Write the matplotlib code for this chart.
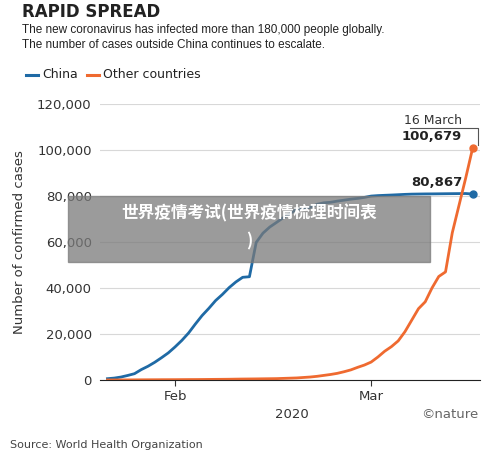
import matplotlib
matplotlib.use("Agg")
import matplotlib.pyplot as plt
import numpy as np

# days relative to 1 Feb 2020
days = list(range(-10, 45))  # Jan 22 .. Mar 16
china = [571,830,1287,1975,2744,4515,5974,7711,9692,11791,
         14380,17205,20438,24324,28018,31161,34546,37198,40171,42638,44653,44900,
         59804,63851,66492,68500,70548,72436,74185,74576,75077,76392,77042,77262,77780,78191,78630,78961,79394,
         79968,80174,80304,80422,80565,80710,80813,80859,80904,80924,80955,80992,81021,81048,81077,80867]
other = [10,20,30,40,60,80,100,110,130,140,
         150,170,190,200,220,250,280,300,330,380,420,450,
         480,520,560,600,700,800,900,1100,1300,1600,2000,2400,2900,3600,4400,5500,6500,
         7800,10000,12500,14500,17000,21000,26000,31000,34000,40000,45000,47000,64000,76000,88000,100679]
yticks = [0,20000,40000,60000,80000,100000,120000]

W,H = 500,459
fig = plt.figure(figsize=(W/100,H/100), dpi=100)
ax = fig.add_axes([100/W, 1-380/H, 380/W, (380-104)/H])
blue, orange = "#1f6aa5", "#ef6a30"
ax.plot(days, china, color=blue, lw=2)
ax.plot(days, other, color=orange, lw=2)
ax.plot(days[-1], china[-1], 'o', color=blue, ms=5)
ax.plot(days[-1], other[-1], 'o', color=orange, ms=5)
ax.set_xlim(-11.1, 45.1)
ax.set_ylim(0, 120000)
ax.set_yticks(yticks)
ax.set_yticklabels([f"{v:,}" for v in yticks], fontsize=9.5, color="#333")
ax.set_xticks([0, 29])
ax.set_xticklabels(["Feb", "Mar"], fontsize=9.5, color="#333")
ax.tick_params(axis='y', length=0, pad=6)
ax.tick_params(axis='x', length=4, color="#333")
ax.grid(axis='y', color="#d8d8d8", lw=0.8)
for s in ["top","right","left"]:
    ax.spines[s].set_visible(False)
ax.spines["bottom"].set_color("#222")
ax.set_axisbelow(True)
ax.set_ylabel("Number of confirmed cases", fontsize=9.5, color="#333", labelpad=8)

fig.text(22/W, 1-12/H, "RAPID SPREAD", fontsize=12, fontweight="bold", va="center", color="#222",
         family="Liberation Sans Narrow")
fig.text(22/W, 1-30/H, "The new coronavirus has infected more than 180,000 people globally.", fontsize=8.5, va="center", color="#222",
         family="Liberation Sans")
fig.text(22/W, 1-45/H, "The number of cases outside China continues to escalate.", fontsize=8.5, va="center", color="#222",
         family="Liberation Sans")
fig.lines.append(plt.Line2D([26/W,38/W],[1-75/H]*2, color=blue, lw=2.2, transform=fig.transFigure))
fig.text(42/W, 1-75/H, "China", fontsize=9, va="center", color="#222")
fig.lines.append(plt.Line2D([87/W,99/W],[1-75/H]*2, color=orange, lw=2.2, transform=fig.transFigure))
fig.text(103/W, 1-75/H, "Other countries", fontsize=9, va="center", color="#222")

fig.text(462/W, 1-120/H, "16 March", fontsize=9, ha="right", va="center", color="#333")
fig.text(462/W, 1-136/H, "100,679", fontsize=9.5, fontweight="bold", ha="right", va="center", color="#222")
fig.lines.append(plt.Line2D([410/W,478/W,478/W],[1-128/H,1-128/H,1-145/H], color="#555", lw=0.8, transform=fig.transFigure))
fig.text(463/W, 1-182/H, "80,867", fontsize=9.5, fontweight="bold", ha="right", va="center", color="#222")
fig.text(292/W, 1-415/H, "2020", fontsize=9.5, ha="center", va="center", color="#333")
fig.text(478/W, 1-415/H, "©nature", fontsize=9.5, ha="right", va="center", color="#666")
fig.text(10/W, 1-445/H, "Source: World Health Organization", fontsize=8, va="center", color="#444")

fig.patches.append(plt.Rectangle((68/W, 1-262/H), 362/W, 66/H, color="#7a7a7a", alpha=0.75, transform=fig.transFigure, zorder=5))
fig.text(249/W, 1-213/H, "世界疫情考试(世界疫情梳理时间表", fontsize=12, fontweight="bold", ha="center", va="center",
         color="white", family=["Noto Sans CJK SC","DejaVu Sans"], zorder=6)
fig.text(249/W, 1-241/H, ")", fontsize=12, fontweight="bold", ha="center", va="center",
         color="white", family=["Noto Sans CJK SC","DejaVu Sans"], zorder=6)

fig.savefig("out.png", dpi=100)
